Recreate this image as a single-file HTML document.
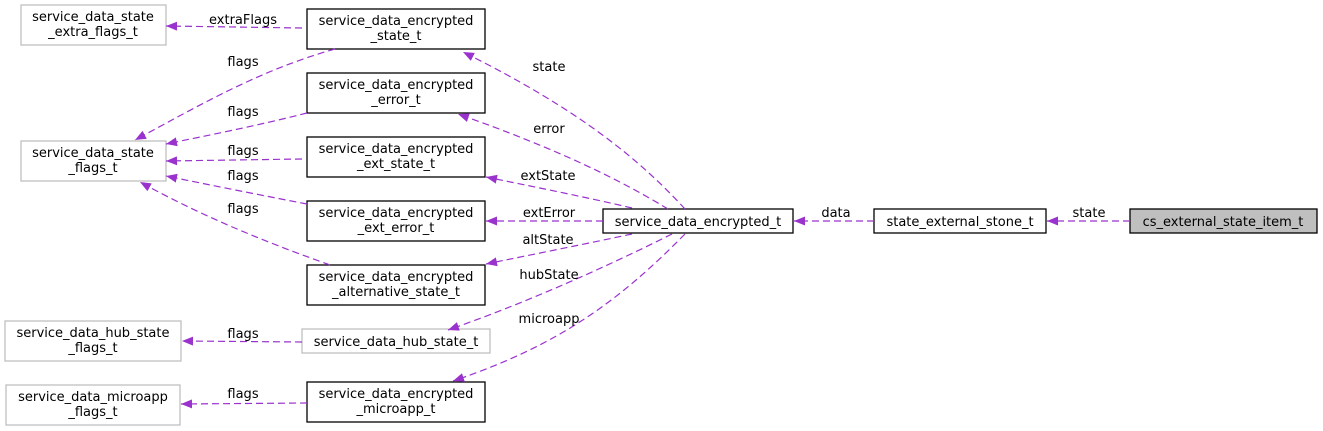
<!DOCTYPE html>
<html><head><meta charset="utf-8"><style>
html,body{margin:0;padding:0;background:#fff;}
svg{display:block;}
text{font-family:"DejaVu Sans","Liberation Sans",sans-serif;font-size:13px;fill:#000;}
.b{fill:#fff;stroke:#000;stroke-width:1.3;}
.g{fill:#fff;stroke:#bfbfbf;stroke-width:1.3;}
.e{fill:none;stroke:#9a32cd;stroke-width:1.2;stroke-dasharray:7,4;}
</style></head><body>
<svg width="1323" height="431" viewBox="0 0 1323 431" xmlns="http://www.w3.org/2000/svg">
<defs><marker id="a" markerWidth="12" markerHeight="9" refX="11" refY="4.5" orient="auto" markerUnits="userSpaceOnUse"><path d="M0,0 L11,4.5 L0,9 z" fill="#9a32cd"/></marker></defs>
<g text-anchor="middle">
<!-- boxes -->
<rect class="g" x="21" y="5" width="145" height="40"/><text x="93" y="21">service_data_state</text><text x="93" y="36">_extra_flags_t</text>
<rect class="g" x="21" y="141" width="145" height="40"/><text x="93" y="157">service_data_state</text><text x="93" y="172">_flags_t</text>
<rect class="b" x="307" y="9" width="178" height="40"/><text x="396" y="25">service_data_encrypted</text><text x="396" y="40">_state_t</text>
<rect class="b" x="307" y="73" width="178" height="40"/><text x="396" y="89">service_data_encrypted</text><text x="396" y="104">_error_t</text>
<rect class="b" x="307" y="137" width="178" height="40"/><text x="396" y="153">service_data_encrypted</text><text x="396" y="168">_ext_state_t</text>
<rect class="b" x="307" y="201" width="178" height="40"/><text x="396" y="217">service_data_encrypted</text><text x="396" y="232">_ext_error_t</text>
<rect class="b" x="307" y="265" width="178" height="40"/><text x="396" y="281">service_data_encrypted</text><text x="396" y="296">_alternative_state_t</text>
<rect class="g" x="5" y="321" width="176" height="40"/><text x="93" y="337">service_data_hub_state</text><text x="93" y="352">_flags_t</text>
<rect class="g" x="302" y="329" width="188" height="24"/><text x="396" y="346">service_data_hub_state_t</text>
<rect class="g" x="6" y="385" width="174" height="40"/><text x="93" y="401">service_data_microapp</text><text x="93" y="416">_flags_t</text>
<rect class="b" x="307" y="382" width="178" height="40"/><text x="396" y="398">service_data_encrypted</text><text x="396" y="413">_microapp_t</text>
<rect class="b" x="603" y="209" width="190" height="24"/><text x="698" y="226">service_data_encrypted_t</text>
<rect class="b" x="874" y="209" width="172" height="24"/><text x="960" y="226">state_external_stone_t</text>
<rect x="1130" y="209" width="187" height="24" fill="#bfbfbf" stroke="#000" stroke-width="1.3"/><text x="1223" y="226">cs_external_state_item_t</text>
<!-- edges -->
<path class="e" marker-end="url(#a)" d="M1130,221 L1047,221"/>
<path class="e" marker-end="url(#a)" d="M874,221 L794,221"/>
<path class="e" marker-end="url(#a)" d="M685,209 C640,160 580,110 463,52"/>
<path class="e" marker-end="url(#a)" d="M668,209 C620,180 560,150 458,114"/>
<path class="e" marker-end="url(#a)" d="M632,208 C590,198 530,186 486,177"/>
<path class="e" marker-end="url(#a)" d="M603,221 L486,221"/>
<path class="e" marker-end="url(#a)" d="M632,234 C590,243 530,255 486,264"/>
<path class="e" marker-end="url(#a)" d="M672,234 C600,270 520,305 448,330"/>
<path class="e" marker-end="url(#a)" d="M685,234 C620,300 560,345 453,381"/>
<path class="e" marker-end="url(#a)" d="M302,28 L166,26"/>
<path class="e" marker-end="url(#a)" d="M335,49 C260,70 200,105 135,140"/>
<path class="e" marker-end="url(#a)" d="M307,113 C260,125 210,135 166,144"/>
<path class="e" marker-end="url(#a)" d="M302,159 L166,161"/>
<path class="e" marker-end="url(#a)" d="M307,204 C260,195 210,185 166,176"/>
<path class="e" marker-end="url(#a)" d="M330,265 C260,240 200,215 140,182"/>
<path class="e" marker-end="url(#a)" d="M302,342 L182,341"/>
<path class="e" marker-end="url(#a)" d="M307,403 L181,404"/>
<!-- labels -->
<text x="243" y="24">extraFlags</text>
<text x="243" y="66">flags</text>
<text x="243" y="116">flags</text>
<text x="243" y="155">flags</text>
<text x="243" y="180">flags</text>
<text x="243" y="213">flags</text>
<text x="243" y="338">flags</text>
<text x="243" y="398">flags</text>
<text x="549" y="71">state</text>
<text x="549" y="133">error</text>
<text x="548" y="180">extState</text>
<text x="549" y="217">extError</text>
<text x="548" y="244">altState</text>
<text x="549" y="279">hubState</text>
<text x="549" y="323">microapp</text>
<text x="836" y="217">data</text>
<text x="1089" y="217">state</text>
</g>
</svg>
</body></html>
